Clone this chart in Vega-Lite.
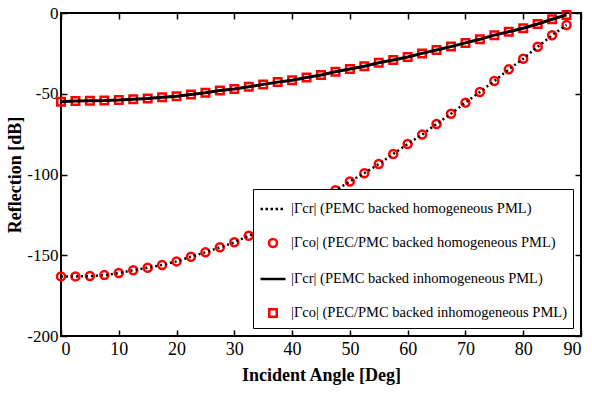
{
  "$schema": "https://vega.github.io/schema/vega-lite/v6.json",
  "width": 520,
  "height": 323,
  "autosize": "none",
  "padding": {"left": 61, "top": 13, "right": 11, "bottom": 57},
  "background": "white",
  "config": {
    "view": {"stroke": "black", "strokeWidth": 2},
    "font": "Liberation Serif",
    "axis": {
      "domain": false,
      "grid": false,
      "tickColor": "black",
      "tickWidth": 1.5,
      "tickSize": -6,
      "labelFont": "Liberation Serif",
      "labelFontSize": 18,
      "labelColor": "black",
      "titleFont": "Liberation Serif",
      "titleFontSize": 18,
      "titleFontWeight": "bold",
      "titleColor": "black"
    },
    "legend": {
      "orient": "bottom-right",
      "offset": 8,
      "strokeColor": "black",
      "fillColor": "white",
      "padding": 6,
      "labelFont": "Liberation Serif",
      "labelFontSize": 14.5,
      "labelColor": "black",
      "labelLimit": 0,
      "symbolSize": 625,
      "symbolStrokeWidth": 2.5,
      "rowPadding": 13
    }
  },
  "data": {
    "values": [
      {"a": 0, "hcr": -163.1, "hco": -163.1, "icr": -54.9, "ico": -54.9},
      {"a": 2.5, "hcr": -163.1, "hco": -163.1, "icr": -54.5, "ico": -54.5},
      {"a": 5, "hcr": -162.9, "hco": -162.9, "icr": -54.3, "ico": -54.3},
      {"a": 7.5, "hcr": -162.3, "hco": -162.3, "icr": -54.2, "ico": -54.2},
      {"a": 10, "hcr": -161.0, "hco": -161.0, "icr": -53.9, "ico": -53.9},
      {"a": 12.5, "hcr": -159.3, "hco": -159.3, "icr": -53.4, "ico": -53.4},
      {"a": 15, "hcr": -157.7, "hco": -157.7, "icr": -52.9, "ico": -52.9},
      {"a": 17.5, "hcr": -156.0, "hco": -156.0, "icr": -52.1, "ico": -52.1},
      {"a": 20, "hcr": -153.8, "hco": -153.8, "icr": -51.5, "ico": -51.5},
      {"a": 22.5, "hcr": -150.9, "hco": -150.9, "icr": -50.4, "ico": -50.4},
      {"a": 25, "hcr": -148.2, "hco": -148.2, "icr": -49.4, "ico": -49.4},
      {"a": 27.5, "hcr": -145.1, "hco": -145.1, "icr": -48.0, "ico": -48.0},
      {"a": 30, "hcr": -142.0, "hco": -142.0, "icr": -47.0, "ico": -47.0},
      {"a": 32.5, "hcr": -137.9, "hco": -137.9, "icr": -45.7, "ico": -45.7},
      {"a": 35, "hcr": -134.4, "hco": -134.4, "icr": -44.2, "ico": -44.2},
      {"a": 37.5, "hcr": -130.1, "hco": -130.1, "icr": -42.8, "ico": -42.8},
      {"a": 40, "hcr": -125.5, "hco": -125.5, "icr": -41.6, "ico": -41.6},
      {"a": 42.5, "hcr": -120.5, "hco": -120.5, "icr": -40.0, "ico": -40.0},
      {"a": 45, "hcr": -115.2, "hco": -115.2, "icr": -38.4, "ico": -38.4},
      {"a": 47.5, "hcr": -109.8, "hco": -109.8, "icr": -36.4, "ico": -36.4},
      {"a": 50, "hcr": -104.3, "hco": -104.3, "icr": -34.7, "ico": -34.7},
      {"a": 52.5, "hcr": -99.2, "hco": -99.2, "icr": -33.0, "ico": -33.0},
      {"a": 55, "hcr": -93.5, "hco": -93.5, "icr": -30.8, "ico": -30.8},
      {"a": 57.5, "hcr": -87.3, "hco": -87.3, "icr": -29.1, "ico": -29.1},
      {"a": 60, "hcr": -81.1, "hco": -81.1, "icr": -27.2, "ico": -27.2},
      {"a": 62.5, "hcr": -75.3, "hco": -75.3, "icr": -25.0, "ico": -25.0},
      {"a": 65, "hcr": -68.7, "hco": -68.7, "icr": -22.9, "ico": -22.9},
      {"a": 67.5, "hcr": -62.4, "hco": -62.4, "icr": -20.8, "ico": -20.8},
      {"a": 70, "hcr": -55.5, "hco": -55.5, "icr": -18.5, "ico": -18.5},
      {"a": 72.5, "hcr": -48.9, "hco": -48.9, "icr": -16.3, "ico": -16.3},
      {"a": 75, "hcr": -42.1, "hco": -42.1, "icr": -13.7, "ico": -13.7},
      {"a": 77.5, "hcr": -34.9, "hco": -34.9, "icr": -11.6, "ico": -11.6},
      {"a": 80, "hcr": -28.3, "hco": -28.3, "icr": -9.4, "ico": -9.4},
      {"a": 82.5, "hcr": -20.9, "hco": -20.9, "icr": -6.8, "ico": -6.8},
      {"a": 85, "hcr": -13.8, "hco": -13.8, "icr": -3.9, "ico": -3.9},
      {"a": 87.5, "hcr": -7.4, "hco": -7.4, "icr": -1.2, "ico": -1.2}
    ]
  },
  "layer": [
    {
      "transform": [{"fold": ["hco", "ico"], "as": ["s", "v"]}],
      "mark": {"type": "point", "filled": false, "size": 625, "strokeWidth": 2.5, "opacity": 1},
      "encoding": {
        "x": {
          "field": "a", "type": "quantitative",
          "scale": {"domain": [0, 90], "nice": false},
          "axis": {"orient": "bottom", "values": [0, 10, 20, 30, 40, 50, 60, 70, 80, 90], "labelPadding": 10, "labelFont": "Liberation Serif", "title": "Incident Angle [Deg]", "titlePadding": 8}
        },
        "y": {
          "field": "v", "type": "quantitative",
          "scale": {"domain": [-200, 0], "nice": false},
          "axis": {"orient": "left", "values": [0, -50, -100, -150, -200], "labelPadding": 9, "labelFontSize": 17, "labelFont": "Liberation Serif", "labelExpr": "replace(datum.label, '−', '-')", "title": "Reflection [dB]", "titleFontSize": 18, "titlePadding": 2}
        },
        "color": {
          "field": "s", "type": "nominal",
          "scale": {"domain": ["hcr", "hco", "icr", "ico"], "range": ["black", "red", "black", "red"]},
          "legend": {"title": null, "labelExpr": "datum.value == 'hcr' ? '|Γcr| (PEMC backed homogeneous PML)' : datum.value == 'hco' ? '|Γco| (PEC/PMC backed homogeneous PML)' : datum.value == 'icr' ? '|Γcr| (PEMC backed inhomogeneous PML)' : '|Γco| (PEC/PMC backed inhomogeneous PML)'"}
        },
        "shape": {
          "field": "s", "type": "nominal",
          "scale": {"domain": ["hcr", "hco", "icr", "ico"], "range": ["M-1,0H-0.8M-0.6,0H-0.4M-0.2,0H0M0.2,0H0.4M0.6,0H0.8", "M-0.32,0A0.32,0.32,0,1,0,0.32,0A0.32,0.32,0,1,0,-0.32,0Z", "M-1,0H1", "M-0.3,-0.3H0.3V0.3H-0.3Z"]},
          "legend": {"title": null, "labelExpr": "datum.value == 'hcr' ? '|Γcr| (PEMC backed homogeneous PML)' : datum.value == 'hco' ? '|Γco| (PEC/PMC backed homogeneous PML)' : datum.value == 'icr' ? '|Γcr| (PEMC backed inhomogeneous PML)' : '|Γco| (PEC/PMC backed inhomogeneous PML)'"}
        }
      }
    },
    {
      "transform": [{"fold": ["hcr"], "as": ["s", "v"]}],
      "mark": {"type": "line", "strokeDash": [2, 3], "strokeWidth": 2.5},
      "encoding": {
        "x": {"field": "a", "type": "quantitative", "axis": {"orient": "top", "values": [0, 10, 20, 30, 40, 50, 60, 70, 80, 90], "labels": false, "title": null}},
        "y": {"field": "v", "type": "quantitative", "axis": {"orient": "right", "values": [0, -50, -100, -150, -200], "labels": false, "title": null}},
        "color": {"field": "s", "type": "nominal"}
      }
    },
    {
      "transform": [{"fold": ["icr"], "as": ["s", "v"]}],
      "mark": {"type": "line", "strokeWidth": 3},
      "encoding": {
        "x": {"field": "a", "type": "quantitative", "axis": null},
        "y": {"field": "v", "type": "quantitative", "axis": null},
        "color": {"field": "s", "type": "nominal"}
      }
    }
  ],
  "resolve": {"axis": {"x": "independent", "y": "independent"}}
}
